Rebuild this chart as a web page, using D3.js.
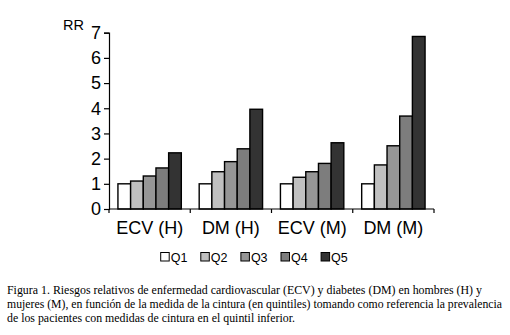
<!DOCTYPE html>
<html><head><meta charset="utf-8">
<script src="https://cdn.jsdelivr.net/npm/d3@7"></script>
<style>body{margin:0;background:#fff}svg{display:block}</style>
</head><body>
<script>
const categories = ["ECV (H)", "DM (H)", "ECV (M)", "DM (M)"];
const series = ["Q1", "Q2", "Q3", "Q4", "Q5"];
const Q1 = [1.0, 1.0, 1.0, 1.0];
const Q2 = [1.11, 1.48, 1.26, 1.75];
const Q3 = [1.31, 1.88, 1.48, 2.51];
const Q4 = [1.63, 2.39, 1.81, 3.69];
const Q5 = [2.23, 3.96, 2.63, 6.85];
const yTicks = [0, 1, 2, 3, 4, 5, 6, 7];
const colors = ["#ffffff", "#c0c0c0", "#969696", "#7d7d7d", "#333333"];
const captionLines = [
  "Figura 1. Riesgos relativos de enfermedad cardiovascular (ECV) y diabetes (DM) en hombres (H) y",
  "mujeres (M), en función de la medida de la cintura (en quintiles) tomando como referencia la prevalencia",
  "de los pacientes con medidas de cintura en el quintil inferior."
];
const captionWidths = [475, 495, 288];
const values = [Q1, Q2, Q3, Q4, Q5];

const W = 510, H = 335;
const svg = d3.select("body").append("svg").attr("width", W).attr("height", H);
const mLeft = 109, mRight = 434, mTop = 32.7, mBottom = 209;

const x = d3.scaleBand().domain(categories).range([mLeft, mRight]).paddingInner(0.22).paddingOuter(0.11);
const x0 = d3.scaleBand().domain(categories).range([mLeft, mRight]);
const xs = d3.scaleBand().domain(series).range([0, x.bandwidth()]);
const y = d3.scaleLinear().domain([0, 7]).range([mBottom, mTop]);

// bars
series.forEach((s, i) => {
  svg.append("g").selectAll("rect").data(categories).join("rect")
    .attr("x", c => x(c) + xs(s))
    .attr("y", (c, j) => y(values[i][j]))
    .attr("width", xs.bandwidth())
    .attr("height", (c, j) => y(0) - y(values[i][j]))
    .attr("fill", colors[i])
    .attr("stroke", "#000").attr("stroke-width", 1.4);
});

// y axis
const yAxis = svg.append("g").attr("transform", `translate(${mLeft},0)`)
  .call(d3.axisLeft(y).tickValues(yTicks).tickSize(5).tickPadding(3).tickFormat(d3.format("d")));
yAxis.select(".domain").attr("stroke", "#000").attr("stroke-width", 1.2);
yAxis.selectAll(".tick line").attr("stroke", "#000").attr("stroke-width", 1.2);
yAxis.selectAll("text").attr("font-family", "Liberation Sans, Arial, sans-serif").attr("font-size", 18).attr("fill", "#000");

// x axis
const boundaries = [mLeft].concat(categories.map(c => x0(c) + x0.bandwidth()));
const xAxisG = svg.append("g").attr("transform", `translate(0,${mBottom})`);
xAxisG.append("line").attr("x1", mLeft).attr("x2", mRight).attr("y1", 0).attr("y2", 0).attr("stroke", "#000").attr("stroke-width", 1.2);
xAxisG.selectAll("line.tk").data(boundaries).join("line").attr("class", "tk")
  .attr("x1", d => d).attr("x2", d => d).attr("y1", 0).attr("y2", 4)
  .attr("stroke", "#000").attr("stroke-width", 1.2);
xAxisG.selectAll("text").data(categories).join("text")
  .attr("x", c => x0(c) + x0.bandwidth() / 2).attr("y", 24.5)
  .attr("text-anchor", "middle")
  .attr("font-family", "Liberation Sans, Arial, sans-serif").attr("font-size", 18).attr("fill", "#000")
  .text(c => c);

// RR label
svg.append("text").attr("x", 63).attr("y", 30).attr("font-family", "Liberation Sans, Arial, sans-serif")
  .attr("font-size", 14.5).attr("fill", "#000").text("RR");

// legend
const lg = svg.append("g");
series.forEach((s, i) => {
  const lx = 160.7 + i * 40.1;
  lg.append("rect").attr("x", lx).attr("y", 252.5).attr("width", 8.5).attr("height", 8.5)
    .attr("fill", colors[i]).attr("stroke", "#000").attr("stroke-width", 1);
  lg.append("text").attr("x", lx + 10).attr("y", 261.5)
    .attr("font-family", "Liberation Sans, Arial, sans-serif").attr("font-size", 12.5).attr("fill", "#000").text(s);
});

// caption
svg.append("g").selectAll("text").data(captionLines).join("text")
  .attr("x", 7).attr("y", (d, i) => 294 + i * 14.2)
  .attr("font-family", "Liberation Serif, Times New Roman, serif").attr("font-size", 11.9).attr("fill", "#000")
  .attr("textLength", (d, i) => captionWidths[i]).attr("lengthAdjust", "spacingAndGlyphs")
  .text(d => d);
</script>
</body></html>
